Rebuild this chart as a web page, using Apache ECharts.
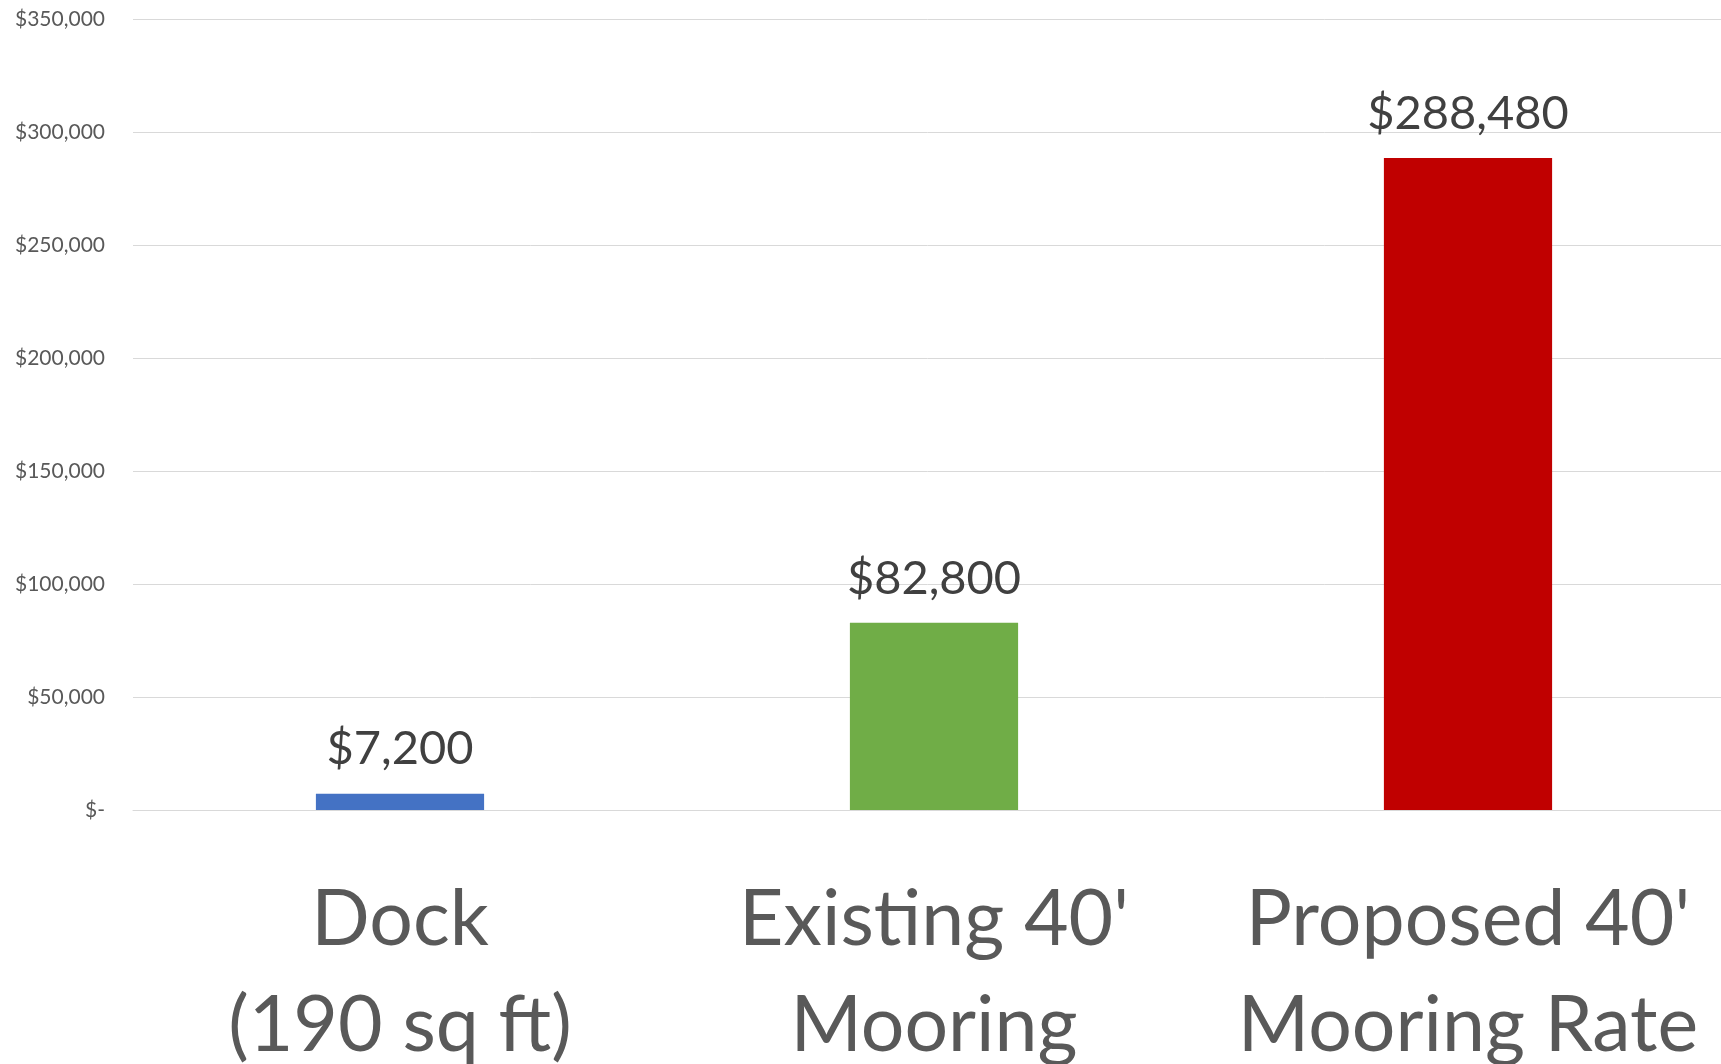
<!DOCTYPE html>
<html>
<head>
<meta charset="utf-8">
<script src="https://cdn.jsdelivr.net/npm/echarts@6/dist/echarts.min.js"></script>
<style>
html,body{margin:0;padding:0;background:#fff;overflow:hidden;}
#chart{width:1721px;height:1064px;}
</style>
</head>
<body>
<div id="chart"></div>
<script>
const categories = ["Dock\n(190 sq ft)", "Existing 40'\nMooring", "Proposed 40'\nMooring Rate"];
const values = [7200, 82800, 288480];
const barColors = ["#4472C4", "#70AD47", "#C00000"];
const yMin = 0, yMax = 350000, yInterval = 50000;

function money(v) {
  if (v === 0) return "$-";
  return "$" + v.toLocaleString("en-US");
}

const chart = echarts.init(document.getElementById('chart'));
chart.setOption({
  animation: false,
  backgroundColor: '#ffffff',
  grid: { left: 133, right: -14, top: 19, bottom: 254, containLabel: false, outerBoundsMode: 'none' },
  xAxis: {
    type: 'category',
    data: categories,
    axisLine: { show: true, lineStyle: { color: '#d9d9d9', width: 1 } },
    axisTick: { show: false },
    axisLabel: {
      margin: 57,
      fontFamily: 'Lato',
      fontSize: 77,
      lineHeight: 106,
      color: '#595959',
      interval: 0,
      hideOverlap: false
    }
  },
  yAxis: {
    type: 'value',
    min: yMin, max: yMax, interval: yInterval,
    axisLine: { show: false },
    axisTick: { show: false },
    splitLine: { lineStyle: { color: '#d9d9d9', width: 1 } },
    axisLabel: {
      margin: 28,
      fontFamily: 'Lato',
      fontSize: 21,
      color: '#595959',
      formatter: money
    }
  },
  series: [{
    type: 'bar',
    barWidth: '31.5%',
    data: values.map((v, i) => ({ value: v, itemStyle: { color: barColors[i] } })),
    label: {
      show: true,
      position: 'top',
      distance: 21,
      fontFamily: 'Lato',
      fontSize: 47,
      color: '#404040',
      formatter: p => money(p.value)
    }
  }]
});
</script>
</body>
</html>
